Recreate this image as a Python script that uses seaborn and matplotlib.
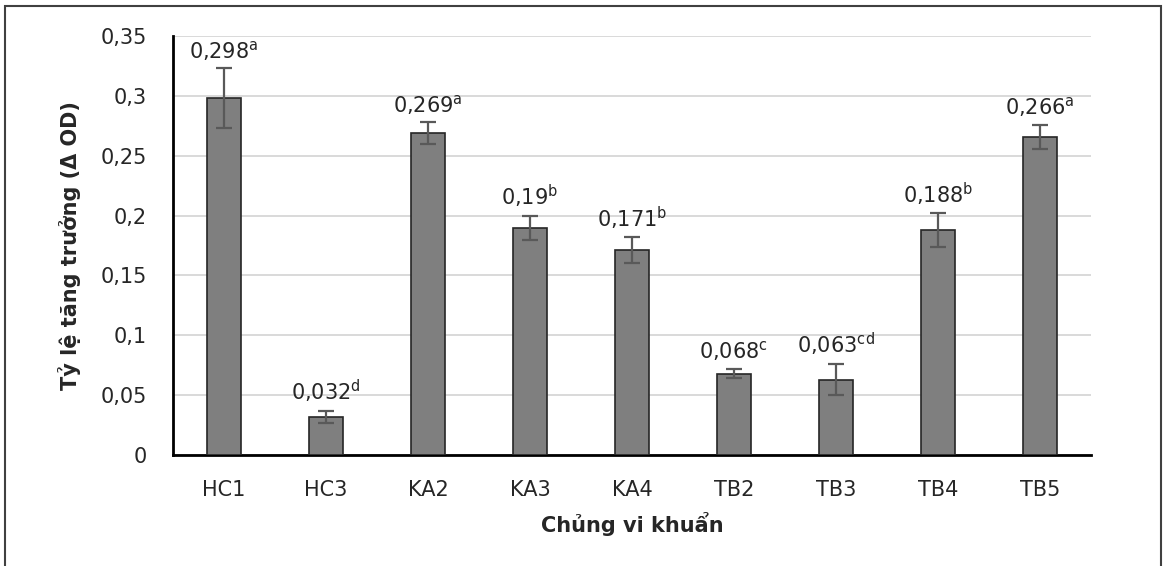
import matplotlib
matplotlib.use("Agg")
import matplotlib.pyplot as plt
import matplotlib.patches as patches
import seaborn as sns
import pandas as pd
from matplotlib.ticker import MultipleLocator, FuncFormatter

strains = ["HC1", "HC3", "KA2", "KA3", "KA4", "TB2", "TB3", "TB4", "TB5"]
delta_od = [0.298, 0.032, 0.269, 0.19, 0.171, 0.068, 0.063, 0.188, 0.266]
errors = [0.025, 0.005, 0.009, 0.010, 0.011, 0.004, 0.013, 0.014, 0.010]
letters = ["a", "d", "a", "b", "b", "c", "cd", "b", "a"]
value_text = ["0,298", "0,032", "0,269", "0,19", "0,171", "0,068", "0,063", "0,188", "0,266"]

df = pd.DataFrame({"strain": strains, "od": delta_od, "err": errors})

sns.set_theme(style="white")
plt.rcParams["font.family"] = ["DejaVu Sans"]
plt.rcParams["mathtext.fontset"] = "dejavusans"

fig = plt.figure(figsize=(11.63, 5.66), dpi=100)
ax = fig.add_axes([173 / 1163, 1 - 455 / 566, (1091 - 173) / 1163, (455 - 36) / 566])

sns.barplot(data=df, x="strain", y="od", ax=ax, color="#7f7f7f", saturation=1,
            width=0.34, edgecolor="#262626", linewidth=1.2, errorbar=None, zorder=3)

xs = list(range(len(strains)))
ax.errorbar(xs, delta_od, yerr=errors, fmt="none", ecolor="#595959",
            elinewidth=1.6, capsize=5.8, capthick=1.6, zorder=4)

for x, v, e, t, l in zip(xs, delta_od, errors, value_text, letters):
    ax.annotate(t + r"$^{\mathregular{" + l + "}}$", (x, v + e), xytext=(0, 4),
                textcoords="offset points", ha="center", va="bottom",
                fontsize=15, color="#262626", annotation_clip=False, zorder=5)

ax.set_ylim(0, 0.35)
ax.set_xlim(-0.5, len(strains) - 0.5)
ax.yaxis.set_major_locator(MultipleLocator(0.05))
ax.yaxis.set_major_formatter(FuncFormatter(
    lambda v, p: f"{v:.2f}".rstrip("0").rstrip(".").replace(".", ",")))
ax.grid(axis="y", color="#d9d9d9", linewidth=1.4, zorder=0)
ax.set_axisbelow(True)

for s in ["top", "right"]:
    ax.spines[s].set_visible(False)
for s in ["left", "bottom"]:
    ax.spines[s].set_color("black")
    ax.spines[s].set_linewidth(2)

ax.tick_params(axis="both", length=0, labelsize=15, colors="#262626")
ax.tick_params(axis="y", pad=19)
ax.tick_params(axis="x", pad=18)

ax.set_xlabel("Chủng vi khuẩn", fontsize=15, fontweight="bold", color="#262626", labelpad=9)
ax.set_ylabel("Tỷ lệ tăng trưởng (Δ OD)", fontsize=15, fontweight="bold", color="#262626", labelpad=14)

border = patches.Rectangle((5 / 1163, -0.1), (1161 - 5) / 1163, 1.1 - 6 / 566,
                           transform=fig.transFigure, fill=False,
                           edgecolor="#404040", linewidth=1.5)
fig.patches.append(border)

fig.savefig("out.png", dpi=100)
